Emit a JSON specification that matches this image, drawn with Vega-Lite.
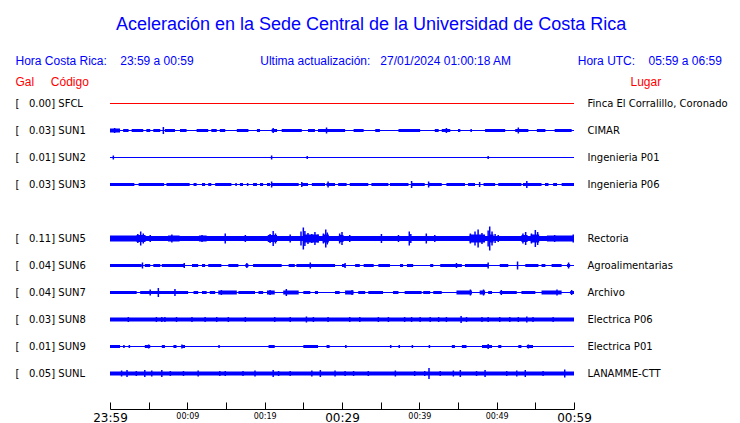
{
  "$schema": "https://vega.github.io/schema/vega-lite/v6.json",
  "width": 464,
  "height": 297,
  "autosize": {"type": "none"},
  "padding": {"left": 110, "top": 90, "right": 166, "bottom": 36},
  "background": "white",
  "title": {
    "text": "Aceleración en la Sede Central de la Universidad de Costa Rica",
    "color": "#0000ff",
    "font": "Liberation Sans",
    "fontSize": 18,
    "fontWeight": "normal",
    "anchor": "middle",
    "frame": "bounds",
    "offset": 20
  },
  "datasets": {
    "stations": [
      {"code": "SFCL", "gal": 0.00, "lugar": "Finca El Corralillo, Coronado", "base": 1},
      {"code": "SUN1", "gal": 0.03, "lugar": "CIMAR", "base": 1},
      {"code": "SUN2", "gal": 0.01, "lugar": "Ingenieria P01", "base": 1},
      {"code": "SUN3", "gal": 0.03, "lugar": "Ingenieria P06", "base": 1},
      {"code": "SUN5", "gal": 0.11, "lugar": "Rectoria", "base": 5},
      {"code": "SUN6", "gal": 0.04, "lugar": "Agroalimentarias", "base": 1},
      {"code": "SUN7", "gal": 0.04, "lugar": "Archivo", "base": 1},
      {"code": "SUN8", "gal": 0.03, "lugar": "Electrica P06", "base": 4},
      {"code": "SUN9", "gal": 0.01, "lugar": "Electrica P01", "base": 1},
      {"code": "SUNL", "gal": 0.05, "lugar": "LANAMME-CTT", "base": 4}
    ],
    "bursts": [
      {"code": "SUN1", "t0": 0, "t1": 1.3, "amp": 4},
      {"code": "SUN1", "t0": 1.7, "t1": 2.4, "amp": 3},
      {"code": "SUN1", "t0": 2.8, "t1": 4.3, "amp": 3},
      {"code": "SUN1", "t0": 4.7, "t1": 5.2, "amp": 3},
      {"code": "SUN1", "t0": 5.6, "t1": 6.5, "amp": 3},
      {"code": "SUN1", "t0": 7.1, "t1": 8.4, "amp": 3},
      {"code": "SUN1", "t0": 9.05, "t1": 9.9, "amp": 3},
      {"code": "SUN1", "t0": 11.2, "t1": 12.7, "amp": 3},
      {"code": "SUN1", "t0": 13.1, "t1": 13.8, "amp": 3},
      {"code": "SUN1", "t0": 14.2, "t1": 14.9, "amp": 3},
      {"code": "SUN1", "t0": 16.4, "t1": 17.9, "amp": 3},
      {"code": "SUN1", "t0": 19.0, "t1": 19.4, "amp": 3},
      {"code": "SUN1", "t0": 20.9, "t1": 21.6, "amp": 3},
      {"code": "SUN1", "t0": 22.2, "t1": 24.8, "amp": 3},
      {"code": "SUN1", "t0": 25.6, "t1": 26.5, "amp": 3},
      {"code": "SUN1", "t0": 26.9, "t1": 30.4, "amp": 3},
      {"code": "SUN1", "t0": 31.5, "t1": 32.8, "amp": 3},
      {"code": "SUN1", "t0": 34.3, "t1": 34.9, "amp": 3},
      {"code": "SUN1", "t0": 37.3, "t1": 40.1, "amp": 3},
      {"code": "SUN1", "t0": 42.0, "t1": 42.5, "amp": 3},
      {"code": "SUN1", "t0": 42.9, "t1": 44.0, "amp": 3},
      {"code": "SUN1", "t0": 45.0, "t1": 45.3, "amp": 3},
      {"code": "SUN1", "t0": 46.6, "t1": 46.8, "amp": 3},
      {"code": "SUN1", "t0": 48.5, "t1": 51.1, "amp": 3},
      {"code": "SUN1", "t0": 52.4, "t1": 54.1, "amp": 3},
      {"code": "SUN1", "t0": 55.2, "t1": 56.3, "amp": 3},
      {"code": "SUN1", "t0": 57.5, "t1": 59.7, "amp": 3},
      {"code": "SUN3", "t0": 0, "t1": 3.15, "amp": 3},
      {"code": "SUN3", "t0": 3.7, "t1": 7.0, "amp": 3},
      {"code": "SUN3", "t0": 7.3, "t1": 10.3, "amp": 3},
      {"code": "SUN3", "t0": 10.8, "t1": 11.2, "amp": 3},
      {"code": "SUN3", "t0": 11.9, "t1": 12.3, "amp": 3},
      {"code": "SUN3", "t0": 12.7, "t1": 13.1, "amp": 3},
      {"code": "SUN3", "t0": 13.6, "t1": 15.7, "amp": 3},
      {"code": "SUN3", "t0": 16.2, "t1": 16.4, "amp": 3},
      {"code": "SUN3", "t0": 16.8, "t1": 17.2, "amp": 3},
      {"code": "SUN3", "t0": 17.7, "t1": 17.9, "amp": 3},
      {"code": "SUN3", "t0": 18.5, "t1": 19.0, "amp": 3},
      {"code": "SUN3", "t0": 19.4, "t1": 19.8, "amp": 3},
      {"code": "SUN3", "t0": 20.3, "t1": 20.7, "amp": 3},
      {"code": "SUN3", "t0": 20.9, "t1": 24.4, "amp": 3},
      {"code": "SUN3", "t0": 24.8, "t1": 25.6, "amp": 3},
      {"code": "SUN3", "t0": 26.1, "t1": 27.8, "amp": 3},
      {"code": "SUN3", "t0": 28.0, "t1": 29.1, "amp": 3},
      {"code": "SUN3", "t0": 29.5, "t1": 30.6, "amp": 3},
      {"code": "SUN3", "t0": 31.0, "t1": 33.4, "amp": 3},
      {"code": "SUN3", "t0": 33.8, "t1": 36.0, "amp": 3},
      {"code": "SUN3", "t0": 36.2, "t1": 38.6, "amp": 3},
      {"code": "SUN3", "t0": 39.0, "t1": 40.7, "amp": 3},
      {"code": "SUN3", "t0": 41.2, "t1": 42.9, "amp": 3},
      {"code": "SUN3", "t0": 43.5, "t1": 45.9, "amp": 3},
      {"code": "SUN3", "t0": 46.3, "t1": 47.2, "amp": 3},
      {"code": "SUN3", "t0": 48.3, "t1": 49.8, "amp": 3},
      {"code": "SUN3", "t0": 50.2, "t1": 53.2, "amp": 3},
      {"code": "SUN3", "t0": 53.4, "t1": 55.8, "amp": 3},
      {"code": "SUN3", "t0": 56.25, "t1": 56.7, "amp": 3},
      {"code": "SUN3", "t0": 57.3, "t1": 57.8, "amp": 3},
      {"code": "SUN3", "t0": 58.4, "t1": 60, "amp": 3},
      {"code": "SUN5", "t0": 0, "t1": 3.4, "amp": 6},
      {"code": "SUN5", "t0": 3.4, "t1": 4.6, "amp": 7},
      {"code": "SUN5", "t0": 7.5, "t1": 9.0, "amp": 6},
      {"code": "SUN5", "t0": 11.5, "t1": 12.5, "amp": 6},
      {"code": "SUN5", "t0": 20.4, "t1": 21.6, "amp": 7},
      {"code": "SUN5", "t0": 25.0, "t1": 27.0, "amp": 8},
      {"code": "SUN5", "t0": 27.5, "t1": 28.3, "amp": 8},
      {"code": "SUN5", "t0": 29.6, "t1": 30.2, "amp": 7},
      {"code": "SUN5", "t0": 46.5, "t1": 48.5, "amp": 8},
      {"code": "SUN5", "t0": 49.0, "t1": 49.6, "amp": 8},
      {"code": "SUN5", "t0": 53.2, "t1": 54.0, "amp": 7},
      {"code": "SUN5", "t0": 54.4, "t1": 55.5, "amp": 8},
      {"code": "SUN5", "t0": 56.5, "t1": 60, "amp": 6},
      {"code": "SUN6", "t0": 0, "t1": 4.1, "amp": 3},
      {"code": "SUN6", "t0": 4.5, "t1": 5.2, "amp": 3},
      {"code": "SUN6", "t0": 5.6, "t1": 6.5, "amp": 3},
      {"code": "SUN6", "t0": 6.7, "t1": 9.7, "amp": 3},
      {"code": "SUN6", "t0": 10.6, "t1": 11.4, "amp": 3},
      {"code": "SUN6", "t0": 11.9, "t1": 12.3, "amp": 3},
      {"code": "SUN6", "t0": 12.7, "t1": 14.4, "amp": 3},
      {"code": "SUN6", "t0": 15.3, "t1": 16.6, "amp": 3},
      {"code": "SUN6", "t0": 17.5, "t1": 17.9, "amp": 3},
      {"code": "SUN6", "t0": 18.5, "t1": 22.2, "amp": 3},
      {"code": "SUN6", "t0": 23.1, "t1": 23.9, "amp": 3},
      {"code": "SUN6", "t0": 24.1, "t1": 29.1, "amp": 3},
      {"code": "SUN6", "t0": 30.0, "t1": 30.4, "amp": 3},
      {"code": "SUN6", "t0": 31.7, "t1": 32.3, "amp": 3},
      {"code": "SUN6", "t0": 32.8, "t1": 34.1, "amp": 3},
      {"code": "SUN6", "t0": 34.7, "t1": 36.2, "amp": 3},
      {"code": "SUN6", "t0": 37.5, "t1": 37.9, "amp": 3},
      {"code": "SUN6", "t0": 38.4, "t1": 39.2, "amp": 3},
      {"code": "SUN6", "t0": 41.4, "t1": 41.8, "amp": 3},
      {"code": "SUN6", "t0": 42.7, "t1": 45.5, "amp": 3},
      {"code": "SUN6", "t0": 45.9, "t1": 48.9, "amp": 3},
      {"code": "SUN6", "t0": 50.4, "t1": 51.5, "amp": 3},
      {"code": "SUN6", "t0": 53.7, "t1": 55.4, "amp": 3},
      {"code": "SUN6", "t0": 55.8, "t1": 56.3, "amp": 3},
      {"code": "SUN6", "t0": 57.1, "t1": 58.4, "amp": 3},
      {"code": "SUN6", "t0": 59.1, "t1": 59.5, "amp": 3},
      {"code": "SUN7", "t0": 0, "t1": 3.45, "amp": 3},
      {"code": "SUN7", "t0": 3.9, "t1": 10.1, "amp": 3},
      {"code": "SUN7", "t0": 10.8, "t1": 11.4, "amp": 3},
      {"code": "SUN7", "t0": 11.9, "t1": 12.5, "amp": 3},
      {"code": "SUN7", "t0": 12.9, "t1": 13.6, "amp": 3},
      {"code": "SUN7", "t0": 14.0, "t1": 16.4, "amp": 4},
      {"code": "SUN7", "t0": 16.6, "t1": 18.75, "amp": 3},
      {"code": "SUN7", "t0": 19.2, "t1": 19.8, "amp": 3},
      {"code": "SUN7", "t0": 20.3, "t1": 21.3, "amp": 4},
      {"code": "SUN7", "t0": 22.4, "t1": 24.4, "amp": 4},
      {"code": "SUN7", "t0": 25.0, "t1": 25.9, "amp": 3},
      {"code": "SUN7", "t0": 26.5, "t1": 26.9, "amp": 3},
      {"code": "SUN7", "t0": 29.1, "t1": 29.7, "amp": 3},
      {"code": "SUN7", "t0": 30.4, "t1": 31.5, "amp": 4},
      {"code": "SUN7", "t0": 32.1, "t1": 33.0, "amp": 3},
      {"code": "SUN7", "t0": 33.4, "t1": 35.3, "amp": 3},
      {"code": "SUN7", "t0": 36.6, "t1": 37.3, "amp": 3},
      {"code": "SUN7", "t0": 38.1, "t1": 40.3, "amp": 3},
      {"code": "SUN7", "t0": 40.5, "t1": 41.4, "amp": 3},
      {"code": "SUN7", "t0": 41.8, "t1": 42.9, "amp": 3},
      {"code": "SUN7", "t0": 44.8, "t1": 46.8, "amp": 4},
      {"code": "SUN7", "t0": 47.8, "t1": 48.5, "amp": 4},
      {"code": "SUN7", "t0": 48.9, "t1": 49.4, "amp": 3},
      {"code": "SUN7", "t0": 50.4, "t1": 52.6, "amp": 3},
      {"code": "SUN7", "t0": 53.2, "t1": 55.0, "amp": 3},
      {"code": "SUN7", "t0": 55.8, "t1": 58.4, "amp": 4},
      {"code": "SUN7", "t0": 59.5, "t1": 60, "amp": 3},
      {"code": "SUN9", "t0": 0, "t1": 1.3, "amp": 3},
      {"code": "SUN9", "t0": 1.7, "t1": 1.9, "amp": 3},
      {"code": "SUN9", "t0": 2.4, "t1": 2.6, "amp": 3},
      {"code": "SUN9", "t0": 4.5, "t1": 5.2, "amp": 3},
      {"code": "SUN9", "t0": 6.7, "t1": 7.1, "amp": 3},
      {"code": "SUN9", "t0": 8.2, "t1": 8.6, "amp": 3},
      {"code": "SUN9", "t0": 9.3, "t1": 9.7, "amp": 3},
      {"code": "SUN9", "t0": 14.0, "t1": 14.2, "amp": 3},
      {"code": "SUN9", "t0": 20.5, "t1": 21.3, "amp": 3},
      {"code": "SUN9", "t0": 25.0, "t1": 26.9, "amp": 3},
      {"code": "SUN9", "t0": 28.0, "t1": 28.4, "amp": 3},
      {"code": "SUN9", "t0": 30.4, "t1": 30.6, "amp": 3},
      {"code": "SUN9", "t0": 36.2, "t1": 36.4, "amp": 3},
      {"code": "SUN9", "t0": 37.3, "t1": 37.5, "amp": 3},
      {"code": "SUN9", "t0": 39.0, "t1": 39.2, "amp": 3},
      {"code": "SUN9", "t0": 41.2, "t1": 41.4, "amp": 3},
      {"code": "SUN9", "t0": 44.2, "t1": 44.6, "amp": 3},
      {"code": "SUN9", "t0": 45.5, "t1": 46.1, "amp": 3},
      {"code": "SUN9", "t0": 48.1, "t1": 49.4, "amp": 3},
      {"code": "SUN9", "t0": 50.2, "t1": 50.6, "amp": 3},
      {"code": "SUN9", "t0": 52.8, "t1": 53.2, "amp": 3},
      {"code": "SUN9", "t0": 53.9, "t1": 54.7, "amp": 3}
    ],
    "spikes": [
      {"code": "SUN1", "t": 0.6, "amp": 5},
      {"code": "SUN1", "t": 6.9, "amp": 7},
      {"code": "SUN1", "t": 21.1, "amp": 5},
      {"code": "SUN1", "t": 28.0, "amp": 6},
      {"code": "SUN1", "t": 43.5, "amp": 5},
      {"code": "SUN1", "t": 52.8, "amp": 6},
      {"code": "SUN2", "t": 0.43, "amp": 4},
      {"code": "SUN2", "t": 20.9, "amp": 4},
      {"code": "SUN2", "t": 25.5, "amp": 3},
      {"code": "SUN2", "t": 48.9, "amp": 3},
      {"code": "SUN3", "t": 20.9, "amp": 6},
      {"code": "SUN3", "t": 24.8, "amp": 5},
      {"code": "SUN3", "t": 28.2, "amp": 6},
      {"code": "SUN3", "t": 39.0, "amp": 7},
      {"code": "SUN3", "t": 41.2, "amp": 6},
      {"code": "SUN3", "t": 47.8, "amp": 5},
      {"code": "SUN3", "t": 53.9, "amp": 7},
      {"code": "SUN5", "t": 3.6, "amp": 9},
      {"code": "SUN5", "t": 3.97, "amp": 14},
      {"code": "SUN5", "t": 4.3, "amp": 10},
      {"code": "SUN5", "t": 5.2, "amp": 7},
      {"code": "SUN5", "t": 8.0, "amp": 8},
      {"code": "SUN5", "t": 11.9, "amp": 7},
      {"code": "SUN5", "t": 14.9, "amp": 10},
      {"code": "SUN5", "t": 17.5, "amp": 7},
      {"code": "SUN5", "t": 20.7, "amp": 9},
      {"code": "SUN5", "t": 21.1, "amp": 15},
      {"code": "SUN5", "t": 21.4, "amp": 10},
      {"code": "SUN5", "t": 23.3, "amp": 8},
      {"code": "SUN5", "t": 24.7, "amp": 14},
      {"code": "SUN5", "t": 25.0, "amp": 22},
      {"code": "SUN5", "t": 25.2, "amp": 15},
      {"code": "SUN5", "t": 25.6, "amp": 11},
      {"code": "SUN5", "t": 26.1, "amp": 9},
      {"code": "SUN5", "t": 26.5, "amp": 13},
      {"code": "SUN5", "t": 26.9, "amp": 8},
      {"code": "SUN5", "t": 27.6, "amp": 10},
      {"code": "SUN5", "t": 27.9, "amp": 18},
      {"code": "SUN5", "t": 28.1, "amp": 12},
      {"code": "SUN5", "t": 29.7, "amp": 10},
      {"code": "SUN5", "t": 30.0, "amp": 13},
      {"code": "SUN5", "t": 31.0, "amp": 7},
      {"code": "SUN5", "t": 35.1, "amp": 9},
      {"code": "SUN5", "t": 37.3, "amp": 7},
      {"code": "SUN5", "t": 38.7, "amp": 14},
      {"code": "SUN5", "t": 38.9, "amp": 9},
      {"code": "SUN5", "t": 40.9, "amp": 10},
      {"code": "SUN5", "t": 42.0, "amp": 7},
      {"code": "SUN5", "t": 46.6, "amp": 10},
      {"code": "SUN5", "t": 47.2, "amp": 14},
      {"code": "SUN5", "t": 47.6, "amp": 18},
      {"code": "SUN5", "t": 48.1, "amp": 11},
      {"code": "SUN5", "t": 48.9, "amp": 16},
      {"code": "SUN5", "t": 49.1, "amp": 24},
      {"code": "SUN5", "t": 49.4, "amp": 14},
      {"code": "SUN5", "t": 49.8, "amp": 9},
      {"code": "SUN5", "t": 50.2, "amp": 7},
      {"code": "SUN5", "t": 53.4, "amp": 10},
      {"code": "SUN5", "t": 53.75, "amp": 13},
      {"code": "SUN5", "t": 54.5, "amp": 10},
      {"code": "SUN5", "t": 55.0, "amp": 17},
      {"code": "SUN5", "t": 55.3, "amp": 13},
      {"code": "SUN5", "t": 57.5, "amp": 7},
      {"code": "SUN5", "t": 59.9, "amp": 8},
      {"code": "SUN6", "t": 4.2, "amp": 6},
      {"code": "SUN6", "t": 9.6, "amp": 5},
      {"code": "SUN6", "t": 17.7, "amp": 5},
      {"code": "SUN6", "t": 25.9, "amp": 6},
      {"code": "SUN6", "t": 30.4, "amp": 5},
      {"code": "SUN6", "t": 44.8, "amp": 5},
      {"code": "SUN6", "t": 48.9, "amp": 6},
      {"code": "SUN6", "t": 52.7, "amp": 8},
      {"code": "SUN6", "t": 59.3, "amp": 6},
      {"code": "SUN7", "t": 5.2, "amp": 6},
      {"code": "SUN7", "t": 6.25, "amp": 9},
      {"code": "SUN7", "t": 8.4, "amp": 7},
      {"code": "SUN7", "t": 14.4, "amp": 5},
      {"code": "SUN7", "t": 20.7, "amp": 5},
      {"code": "SUN7", "t": 22.8, "amp": 7},
      {"code": "SUN7", "t": 31.3, "amp": 5},
      {"code": "SUN7", "t": 46.6, "amp": 6},
      {"code": "SUN7", "t": 48.3, "amp": 6},
      {"code": "SUN7", "t": 50.6, "amp": 5},
      {"code": "SUN7", "t": 57.8, "amp": 6},
      {"code": "SUN7", "t": 59.7, "amp": 5},
      {"code": "SUN8", "t": 2.37, "amp": 5},
      {"code": "SUN8", "t": 6.0, "amp": 5},
      {"code": "SUN8", "t": 6.7, "amp": 5},
      {"code": "SUN8", "t": 7.1, "amp": 5},
      {"code": "SUN8", "t": 8.6, "amp": 5},
      {"code": "SUN8", "t": 10.6, "amp": 5},
      {"code": "SUN8", "t": 12.3, "amp": 5},
      {"code": "SUN8", "t": 13.8, "amp": 5},
      {"code": "SUN8", "t": 15.3, "amp": 5},
      {"code": "SUN8", "t": 17.5, "amp": 5},
      {"code": "SUN8", "t": 21.3, "amp": 5},
      {"code": "SUN8", "t": 23.3, "amp": 5},
      {"code": "SUN8", "t": 25.4, "amp": 6},
      {"code": "SUN8", "t": 26.3, "amp": 5},
      {"code": "SUN8", "t": 28.2, "amp": 5},
      {"code": "SUN8", "t": 31.0, "amp": 5},
      {"code": "SUN8", "t": 32.3, "amp": 5},
      {"code": "SUN8", "t": 34.7, "amp": 5},
      {"code": "SUN8", "t": 36.0, "amp": 5},
      {"code": "SUN8", "t": 38.1, "amp": 5},
      {"code": "SUN8", "t": 39.0, "amp": 5},
      {"code": "SUN8", "t": 40.1, "amp": 5},
      {"code": "SUN8", "t": 41.4, "amp": 5},
      {"code": "SUN8", "t": 42.5, "amp": 5},
      {"code": "SUN8", "t": 43.5, "amp": 5},
      {"code": "SUN8", "t": 45.4, "amp": 7},
      {"code": "SUN8", "t": 46.1, "amp": 5},
      {"code": "SUN8", "t": 48.1, "amp": 5},
      {"code": "SUN8", "t": 48.9, "amp": 5},
      {"code": "SUN8", "t": 50.4, "amp": 5},
      {"code": "SUN8", "t": 51.7, "amp": 5},
      {"code": "SUN8", "t": 52.8, "amp": 5},
      {"code": "SUN8", "t": 53.9, "amp": 6},
      {"code": "SUN8", "t": 54.7, "amp": 5},
      {"code": "SUN8", "t": 57.3, "amp": 5},
      {"code": "SUN9", "t": 5.0, "amp": 4},
      {"code": "SUN9", "t": 9.3, "amp": 4},
      {"code": "SUN9", "t": 48.9, "amp": 5},
      {"code": "SUN9", "t": 54.1, "amp": 4},
      {"code": "SUNL", "t": 1.5, "amp": 6},
      {"code": "SUNL", "t": 2.2, "amp": 7},
      {"code": "SUNL", "t": 3.4, "amp": 5},
      {"code": "SUNL", "t": 4.5, "amp": 7},
      {"code": "SUNL", "t": 5.4, "amp": 6},
      {"code": "SUNL", "t": 6.7, "amp": 7},
      {"code": "SUNL", "t": 7.8, "amp": 5},
      {"code": "SUNL", "t": 9.5, "amp": 5},
      {"code": "SUNL", "t": 11.4, "amp": 6},
      {"code": "SUNL", "t": 14.2, "amp": 5},
      {"code": "SUNL", "t": 14.9, "amp": 5},
      {"code": "SUNL", "t": 17.2, "amp": 5},
      {"code": "SUNL", "t": 18.75, "amp": 6},
      {"code": "SUNL", "t": 21.1, "amp": 7},
      {"code": "SUNL", "t": 21.8, "amp": 5},
      {"code": "SUNL", "t": 23.3, "amp": 5},
      {"code": "SUNL", "t": 26.1, "amp": 6},
      {"code": "SUNL", "t": 27.2, "amp": 7},
      {"code": "SUNL", "t": 29.1, "amp": 6},
      {"code": "SUNL", "t": 30.4, "amp": 5},
      {"code": "SUNL", "t": 31.5, "amp": 5},
      {"code": "SUNL", "t": 33.4, "amp": 5},
      {"code": "SUNL", "t": 36.9, "amp": 6},
      {"code": "SUNL", "t": 39.4, "amp": 5},
      {"code": "SUNL", "t": 40.7, "amp": 5},
      {"code": "SUNL", "t": 41.25, "amp": 11},
      {"code": "SUNL", "t": 42.7, "amp": 5},
      {"code": "SUNL", "t": 44.4, "amp": 6},
      {"code": "SUNL", "t": 45.3, "amp": 7},
      {"code": "SUNL", "t": 47.4, "amp": 5},
      {"code": "SUNL", "t": 48.5, "amp": 7},
      {"code": "SUNL", "t": 51.3, "amp": 5},
      {"code": "SUNL", "t": 52.6, "amp": 6},
      {"code": "SUNL", "t": 53.7, "amp": 7},
      {"code": "SUNL", "t": 56.0, "amp": 5},
      {"code": "SUNL", "t": 58.8, "amp": 8}
    ]
  },
  "layer": [
    {
      "data": {"name": "stations"},
      "mark": {"type": "rule"},
      "encoding": {
        "y": {
          "field": "code", "type": "nominal",
          "scale": {"type": "band", "domain": ["SFCL","SUN1","SUN2","SUN3","SUN4","SUN5","SUN6","SUN7","SUN8","SUN9","SUNL"], "paddingInner": 0, "paddingOuter": 0},
          "axis": {
            "orient": "left",
            "domain": false, "ticks": false, "grid": false,
            "labelAlign": "left", "labelPadding": 95,
            "labelFont": "DejaVu Sans", "labelFontSize": 10, "labelColor": "black",
            "labelExpr": "({'SFCL':'[\u00a0\u00a0\u00a00.00]\u00a0SFCL','SUN1':'[\u00a0\u00a0\u00a00.03]\u00a0SUN1','SUN2':'[\u00a0\u00a0\u00a00.01]\u00a0SUN2','SUN3':'[\u00a0\u00a0\u00a00.03]\u00a0SUN3','SUN5':'[\u00a0\u00a0\u00a00.11]\u00a0SUN5','SUN6':'[\u00a0\u00a0\u00a00.04]\u00a0SUN6','SUN7':'[\u00a0\u00a0\u00a00.04]\u00a0SUN7','SUN8':'[\u00a0\u00a0\u00a00.03]\u00a0SUN8','SUN9':'[\u00a0\u00a0\u00a00.01]\u00a0SUN9','SUNL':'[\u00a0\u00a0\u00a00.05]\u00a0SUNL'})[datum.value] || ''",
            "title": "Gal\u00a0\u00a0\u00a0\u00a0\u00a0Código",
            "titleColor": "#ff0000", "titleFont": "Liberation Sans", "titleFontSize": 12, "titleFontWeight": "normal",
            "titleAngle": 0, "titleAlign": "left", "titleBaseline": "middle",
            "titleX": -95, "titleY": -9
          }
        },
        "size": {"field": "base", "type": "quantitative", "scale": {"type": "linear", "domain": [0, 25], "range": [0, 25]}, "legend": null},
        "color": {"condition": {"test": "datum.code === 'SFCL'", "value": "#ff0000"}, "value": "#0000ff"}
      }
    },
    {
      "data": {"name": "bursts"},
      "mark": {"type": "bar", "color": "#0000ff"},
      "encoding": {
        "x": {
          "field": "t0", "type": "quantitative",
          "scale": {"domain": [0, 60], "nice": false, "zero": false},
          "axis": {
            "orient": "bottom", "offset": 22,
            "values": [0,5,10,15,20,25,30,35,40,45,50,55,60],
            "grid": false, "title": null,
            "domainColor": "black", "tickColor": "black", "labelColor": "black",
            "tickSize": -7, "labelPadding": 10, "labelFlush": false,
            "labelFont": "DejaVu Sans",
            "labelFontSize": {"condition": {"test": "datum.value % 30 === 0", "value": 12}, "value": 8},
            "labelExpr": "datum.value % 10 !== 0 ? '' : (datum.value === 0 ? '23:59' : '00:' + (datum.value < 11 ? '0' : '') + (datum.value - 1))"
          }
        },
        "x2": {"field": "t1"},
        "y": {
          "field": "code", "type": "nominal",
          "axis": {
            "orient": "right",
            "domain": false, "ticks": false, "grid": false,
            "labelAlign": "left", "labelPadding": 13,
            "labelFont": "DejaVu Sans", "labelFontSize": 10, "labelColor": "black",
            "labelExpr": "({'SFCL':'Finca El Corralillo, Coronado','SUN1':'CIMAR','SUN2':'Ingenieria P01','SUN3':'Ingenieria P06','SUN5':'Rectoria','SUN6':'Agroalimentarias','SUN7':'Archivo','SUN8':'Electrica P06','SUN9':'Electrica P01','SUNL':'LANAMME-CTT'})[datum.value] || ''",
            "title": "Lugar",
            "titleColor": "#ff0000", "titleFont": "Liberation Sans", "titleFontSize": 12, "titleFontWeight": "normal",
            "titleAngle": 0, "titleAlign": "left", "titleBaseline": "middle",
            "titleX": 56, "titleY": -9
          }
        },
        "size": {"field": "amp", "type": "quantitative", "legend": null}
      }
    },
    {
      "data": {"name": "spikes"},
      "mark": {"type": "tick", "color": "#0000ff", "thickness": 1.5, "opacity": 1},
      "encoding": {
        "x": {
          "field": "t", "type": "quantitative",
          "axis": {
            "orient": "top", "labels": false, "ticks": false, "domain": false, "grid": false,
            "title": "Hora Costa Rica:\u00a0\u00a0\u00a0\u00a023:59 a 00:59\u00a0\u00a0\u00a0\u00a0\u00a0\u00a0\u00a0\u00a0\u00a0\u00a0\u00a0\u00a0\u00a0\u00a0\u00a0\u00a0\u00a0\u00a0\u00a0\u00a0Ultima actualización:\u00a0\u00a0\u00a027/01/2024 01:00:18 AM\u00a0\u00a0\u00a0\u00a0\u00a0\u00a0\u00a0\u00a0\u00a0\u00a0\u00a0\u00a0\u00a0\u00a0\u00a0\u00a0\u00a0\u00a0\u00a0\u00a0Hora UTC:\u00a0\u00a0\u00a0\u00a005:59 a 06:59",
            "titleColor": "#0000ff", "titleFont": "Liberation Sans", "titleFontSize": 12, "titleFontWeight": "normal",
            "titleAngle": 0, "titleAlign": "left", "titleBaseline": "middle",
            "titleX": -95, "titleY": -30
          }
        },
        "y": {"field": "code", "type": "nominal", "axis": null},
        "size": {"field": "amp", "type": "quantitative", "legend": null}
      }
    }
  ],
  "resolve": {"axis": {"x": "independent", "y": "independent"}},
  "config": {"view": {"stroke": null}, "axis": {"grid": false}}
}
